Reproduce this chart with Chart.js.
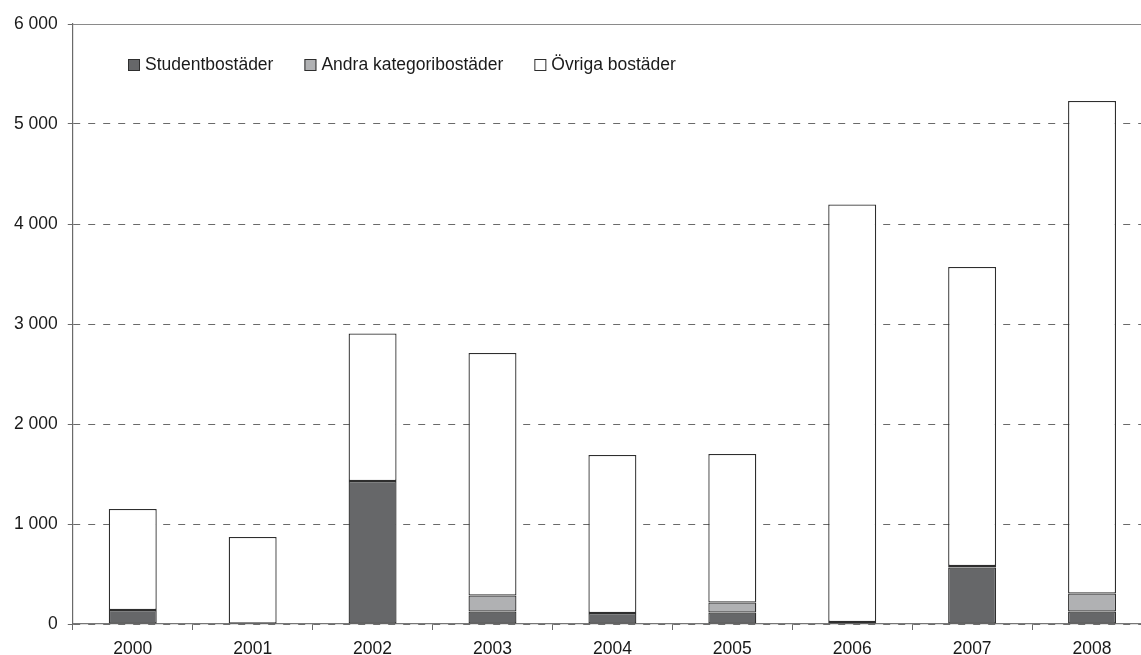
<!DOCTYPE html>
<html>
<head>
<meta charset="utf-8">
<script src="https://cdn.jsdelivr.net/npm/chart.js@4/dist/chart.umd.min.js"></script>
<style>
  /* the plot runs a little past the right edge of the window, as in the original */
  body { margin: 0; background: #fff; overflow: hidden; }
</style>
</head>
<body>
<canvas id="chart" width="1152" height="655"></canvas>
<script>
// ----------------- DATA -----------------
var years = ["2000", "2001", "2002", "2003", "2004", "2005", "2006", "2007", "2008"];
var seriesNames = ["Studentbostäder", "Andra kategoribostäder", "Övriga bostäder"];
var student = [140, 0, 1430, 125, 110, 115, 20, 565, 125];
var andra   = [null, null, null, 160, null, 100, null, 15, 180];
var ovriga  = [1010, 870, 1475, 2425, 1580, 1485, 4175, 2990, 4925];
var yTicks  = [0, 1000, 2000, 3000, 4000, 5000, 6000];

var FONT = '"Liberation Sans", Arial, sans-serif';
var TEXT = '#1a1a1a';
var EDGE = '#2e2e2e';

// "6 000" style
function spaced(v) {
    return String(v).replace(/\B(?=(\d{3})+(?!\d))/g, ' ');
}

// solid line along the top of the plot (the other grid lines are dashed)
var topLine = {
    id: 'topLine',
    beforeDatasetsDraw: function(chart) {
        var a = chart.chartArea, ctx = chart.ctx;
        ctx.save();
        ctx.strokeStyle = '#8a8a8a';
        ctx.lineWidth = 1.2;
        ctx.beginPath();
        ctx.moveTo(a.left, a.top + 0.5);
        ctx.lineTo(a.right, a.top + 0.5);
        ctx.stroke();
        ctx.restore();
    }
};

// legend sits inside the plot, top left
var insideLegend = {
    id: 'insideLegend',
    afterDraw: function(chart) {
        var ctx = chart.ctx;
        var x = 128, y = 65, box = 12;
        ctx.save();
        ctx.font = '17.5px ' + FONT;
        ctx.textBaseline = 'middle';
        ctx.textAlign = 'left';
        chart.data.datasets.forEach(function(ds) {
            ctx.fillStyle = ds.backgroundColor;
            ctx.fillRect(x, y - box / 2, box, box);
            ctx.strokeStyle = EDGE;
            ctx.lineWidth = 1;
            ctx.strokeRect(x + 0.5, y - box / 2 + 0.5, box - 1, box - 1);
            ctx.fillStyle = TEXT;
            ctx.fillText(ds.label, x + 17, y);
            x += 17 + ctx.measureText(ds.label).width + 31;
        });
        ctx.restore();
    }
};

function makeSet(label, data, color) {
    return {
        label: label,
        data: data,
        backgroundColor: color,
        borderColor: EDGE,
        borderWidth: 1.3,
        borderSkipped: false,
        barPercentage: 0.4,
        categoryPercentage: 1.0
    };
}

new Chart(document.getElementById('chart'), {
    type: 'bar',
    data: {
        labels: years,
        datasets: [
            makeSet(seriesNames[0], student, '#666769'),
            makeSet(seriesNames[1], andra, '#b0b1b3'),
            makeSet(seriesNames[2], ovriga, '#ffffff')
        ]
    },
    plugins: [topLine, insideLegend],
    options: {
        responsive: false,
        animation: false,
        layout: { padding: { left: 4, top: 24, right: 0, bottom: -14 } },
        plugins: {
            legend: { display: false },
            tooltip: { enabled: false }
        },
        scales: {
            x: {
                stacked: true,
                grid: { drawOnChartArea: false, drawTicks: true, tickLength: 6, color: '#6a6a6a' },
                border: { color: '#777777', width: 1.2 },
                ticks: { color: TEXT, padding: 9, font: { family: FONT, size: 17.5 } }
            },
            y: {
                stacked: true,
                min: yTicks[0],
                max: yTicks[yTicks.length - 1],
                afterBuildTicks: function(scale) {
                    scale.ticks = yTicks.map(function(v) { return { value: v }; });
                },
                grid: { color: '#6a6a6a', lineWidth: 1, tickLength: 5 },
                border: { color: '#6a6a6a', width: 1.2, dash: [7, 8] },
                ticks: {
                    color: TEXT,
                    padding: 10,
                    font: { family: FONT, size: 17.5 },
                    callback: function(v) { return spaced(v); }
                }
            }
        }
    }
});
</script>
</body>
</html>
